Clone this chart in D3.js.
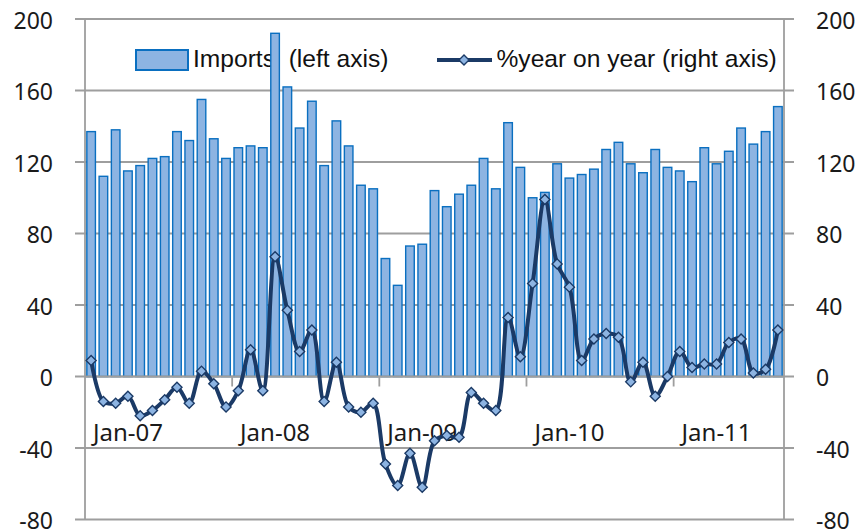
<!DOCTYPE html>
<html>
<head>
<meta charset="utf-8">
<script src="https://cdn.jsdelivr.net/npm/d3@7"></script>
<style>
  body { margin: 0; background: #fff; }
  svg { display: block; font-family: "Noto Sans", sans-serif; }
</style>
</head>
<body>
<svg id="chart" width="860" height="531"></svg>
<script>
// monthly data, Oct-06 .. Jun-11
const months = [
  "Oct-06","Nov-06","Dec-06",
  "Jan-07","Feb-07","Mar-07","Apr-07","May-07","Jun-07","Jul-07","Aug-07","Sep-07","Oct-07","Nov-07","Dec-07",
  "Jan-08","Feb-08","Mar-08","Apr-08","May-08","Jun-08","Jul-08","Aug-08","Sep-08","Oct-08","Nov-08","Dec-08",
  "Jan-09","Feb-09","Mar-09","Apr-09","May-09","Jun-09","Jul-09","Aug-09","Sep-09","Oct-09","Nov-09","Dec-09",
  "Jan-10","Feb-10","Mar-10","Apr-10","May-10","Jun-10","Jul-10","Aug-10","Sep-10","Oct-10","Nov-10","Dec-10",
  "Jan-11","Feb-11","Mar-11","Apr-11","May-11","Jun-11"
];
const imports = [
  137, 112, 138, 115, 118, 122, 123, 137, 132, 155, 133, 122,
  128, 129, 128, 192, 162, 139, 154, 118, 143, 129, 107, 105,
  66, 51, 73, 74, 104, 95, 102, 107, 122, 105, 142, 117,
  100, 103, 119, 111, 113, 116, 127, 131, 119, 114, 127, 117,
  115, 109, 128, 119, 126, 139, 130, 137, 151
];
const yoy = [
  9, -14, -15, -11, -22, -19, -13, -6, -15, 3, -4, -17,
  -8, 15, -8, 67, 37, 14, 26, -14, 8, -17, -20, -15,
  -49, -61, -43, -62, -36, -33, -34, -9, -15, -19, 33, 11,
  52, 99, 63, 50, 9, 21, 24, 22, -3, 8, -11, 0,
  14, 5, 7, 7, 19, 21, 2, 4, 26
];
const yTicks = [-80, -40, 0, 40, 80, 120, 160, 200];
const seriesNames = ["Imports  (left axis)", "%year on year (right axis)"];

const svg = d3.select("#chart");
const margin = { left: 85, right: 784, top: 19, bottom: 519.5 };

const x = d3.scaleBand().domain(months).range([margin.left, margin.right])
  .paddingInner(0.3).paddingOuter(0.15);
const y = d3.scaleLinear().domain([-80, 200]).range([margin.bottom, margin.top]);
const y2 = d3.scaleLinear().domain([-80, 200]).range([margin.bottom, margin.top]);

const gridColor = "#9e9e9e";
const barFill = "#8db4e2", barStroke = "#0a6fc0", lineColor = "#1b3a66";

// gridlines (extend past axes like tick marks)
svg.append("g").selectAll("line").data(yTicks).join("line")
  .attr("x1", margin.left - 10).attr("x2", margin.right + 10)
  .attr("y1", d => y(d)).attr("y2", d => y(d))
  .attr("stroke", gridColor).attr("stroke-width", 1.8);

// left / right axis lines
svg.append("line").attr("x1", margin.left).attr("x2", margin.left)
  .attr("y1", margin.top).attr("y2", margin.bottom)
  .attr("stroke", gridColor).attr("stroke-width", 1.8);
svg.append("line").attr("x1", margin.right).attr("x2", margin.right)
  .attr("y1", margin.top).attr("y2", margin.bottom)
  .attr("stroke", gridColor).attr("stroke-width", 1.8);

// tick labels (plain hyphen for negatives, like the original)
const fmt = d => String(d);
const yAxisL = d3.axisLeft(y).tickValues(yTicks).tickFormat(fmt).tickSize(0).tickPadding(32);
const gL = svg.append("g").attr("transform", `translate(${margin.left},2)`).call(yAxisL);
const yAxisR = d3.axisRight(y2).tickValues(yTicks).tickFormat(fmt).tickSize(0).tickPadding(32);
const gR = svg.append("g").attr("transform", `translate(${margin.right},2)`).call(yAxisR);
[gL, gR].forEach(g => {
  g.select(".domain").remove();
  g.selectAll("text").attr("font-size", 23).attr("fill", "#1a1a1a")
    .attr("font-family", "Noto Sans, sans-serif");
});

// legend (drawn under the bars, as in the original)
const lg = svg.append("g").attr("font-size", 24.6).attr("fill", "#111")
  .attr("font-family", "Liberation Sans, Arial, sans-serif");
lg.append("rect").attr("x", 136).attr("y", 50).attr("width", 52).attr("height", 20)
  .attr("fill", barFill).attr("stroke", barStroke).attr("stroke-width", 2);
lg.append("text").attr("x", 193).attr("y", 67.3)
  .style("white-space", "pre").text(seriesNames[0]);
lg.append("line").attr("x1", 437).attr("x2", 492).attr("y1", 60).attr("y2", 60)
  .attr("stroke", lineColor).attr("stroke-width", 4);
lg.append("text").attr("x", 496.5).attr("y", 67.3).text(seriesNames[1]);

// bars
svg.append("g").selectAll("rect").data(imports).join("rect")
  .attr("x", (d, i) => x(months[i]))
  .attr("width", x.bandwidth())
  .attr("y", d => y(d))
  .attr("height", d => y(0) - y(d))
  .attr("fill", barFill)
  .attr("stroke", barStroke)
  .attr("stroke-width", 1.4);

// category axis along zero line
svg.append("line").attr("x1", margin.left).attr("x2", margin.right)
  .attr("y1", y(0)).attr("y2", y(0))
  .attr("stroke", gridColor).attr("stroke-width", 1.8);
const tickIdx = [12, 24, 36, 48];
svg.append("g").selectAll("line").data(tickIdx).join("line")
  .attr("x1", i => x(months[i]) - x.step() * x.paddingInner() / 2)
  .attr("x2", i => x(months[i]) - x.step() * x.paddingInner() / 2)
  .attr("y1", y(0)).attr("y2", y(0) + 10)
  .attr("stroke", gridColor).attr("stroke-width", 1.8);
const xAxis = d3.axisBottom(x)
  .tickValues(months.filter(m => m.startsWith("Jan")))
  .tickSize(0).tickPadding(47);
const gX = svg.append("g").attr("transform", `translate(0,${y(0)})`).call(xAxis);
gX.select(".domain").remove();
gX.selectAll("text").attr("font-size", 24).attr("fill", "#1a1a1a")
  .attr("font-family", "Noto Sans, sans-serif");

// yoy line
const cx = (d, i) => x(months[i]) + x.bandwidth() / 2;
const line = d3.line().x(cx).y(d => y2(d)).curve(d3.curveCatmullRom.alpha(0.5));
svg.append("path").datum(yoy).attr("d", line)
  .attr("fill", "none").attr("stroke", lineColor).attr("stroke-width", 4)
  .attr("stroke-linejoin", "round");
const diamond = d3.symbol().type(d3.symbolDiamond2).size(64);
svg.append("g").selectAll("path").data(yoy).join("path")
  .attr("transform", (d, i) => `translate(${cx(d, i)},${y2(d)})`)
  .attr("d", diamond)
  .attr("fill", barFill).attr("stroke", lineColor).attr("stroke-width", 1.4);

// legend marker
lg.append("path").attr("transform", "translate(464,60)").attr("d", diamond)
  .attr("fill", barFill).attr("stroke", lineColor).attr("stroke-width", 1.4);
</script>
</body>
</html>
